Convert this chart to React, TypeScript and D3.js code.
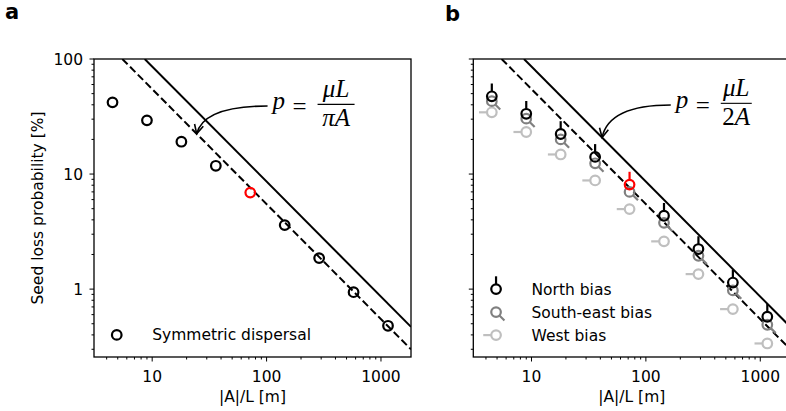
import React from 'react';
import * as d3 from 'd3';

// ---- data ----
const distances = [4.5, 9, 18, 36, 72, 144, 288, 576, 1152];
const symmetricLoss = [42, 29.3, 19.1, 11.8, 6.9, 3.6, 1.86, 0.94, 0.48];
const northLoss = [47.4, 33.4, 22.3, 14.1, 8.1, 4.34, 2.23, 1.14, 0.575];
const southEastLoss = [43, 30.3, 20, 12.4, 7.0, 3.77, 1.95, 0.975, 0.49];
const westLoss = [34.4, 23.2, 14.8, 8.8, 4.96, 2.6, 1.35, 0.67, 0.337];
const highlightIndex = 4;
const xTickValues = [10, 100, 1000];
const yTickValues = [1, 10, 100];
const xDomain = [3.1, 1830];
const yDomain = [0.257, 100];
const coefPi = 548; // p = muL/(pi A), dashed
const coefTwo = 860; // p = muL/(2A), solid
const legendA = ['Symmetric dispersal'];
const legendB = ['North bias', 'South-east bias', 'West bias'];

// ---- layout ----
const W = 786;
const H = 411;
const TOP = 59;
const BOTTOM = 357;
const PW = 317;
const LEFT_A = 94;
const LEFT_B = 473.3;
const FONT = 'DejaVu Sans, sans-serif';
const FS = 15.5;
const MATH = 'Liberation Serif, serif';
const SE_COLOR = '#808080';
const W_COLOR = '#bfbfbf';
const R = 4.8;
const SW = 2.2;

function minorTicks(domain: number[]) {
  const out: number[] = [];
  const e0 = Math.floor(Math.log10(domain[0]));
  const e1 = Math.ceil(Math.log10(domain[1]));
  for (let e = e0; e <= e1; e++) {
    for (let k = 2; k <= 9; k++) {
      const v = k * Math.pow(10, e);
      if (v >= domain[0] && v <= domain[1]) out.push(v);
    }
  }
  return out;
}

type Kind = 'plain' | 'north' | 'se' | 'west';

function Marker({ cx, cy, kind, color }: { cx: number; cy: number; kind: Kind; color: string }) {
  let tail: [number, number, number, number] | null = null;
  if (kind === 'north') tail = [cx, cy - R, cx, cy - R - 8];
  if (kind === 'se') tail = [cx + R * 0.707, cy + R * 0.707, cx + R * 0.707 + 5, cy + R * 0.707 + 5];
  if (kind === 'west') tail = [cx - R, cy, cx - R - 8, cy];
  return (
    <g>
      {tail && (
        <line x1={tail[0]} y1={tail[1]} x2={tail[2]} y2={tail[3]} stroke={color} strokeWidth={SW} />
      )}
      <circle cx={cx} cy={cy} r={R} fill="none" stroke={color} strokeWidth={SW} />
    </g>
  );
}

function Arrow({ sx, sy, ex, ey }: { sx: number; sy: number; ex: number; ey: number }) {
  const cx = ex + 0.1 * (sx - ex);
  const cy = sy;
  const dx = ex - cx;
  const dy = ey - cy;
  const len = Math.hypot(dx, dy);
  const ux = dx / len;
  const uy = dy / len;
  const hl = 9;
  const hw = 4.5;
  const bx = ex - ux * hl;
  const by = ey - uy * hl;
  const p1 = [bx - uy * hw, by + ux * hw];
  const p2 = [bx + uy * hw, by - ux * hw];
  return (
    <g fill="none" stroke="#000" strokeWidth={1.6}>
      <path d={`M${sx},${sy} Q${cx},${cy} ${ex},${ey}`} />
      <path d={`M${p1[0]},${p1[1]} L${ex},${ey} L${p2[0]},${p2[1]}`} />
    </g>
  );
}

function MathLabel({ x, y, den, barW }: { x: number; y: number; den: string; barW: number }) {
  const fs = 25;
  const fracC = x + 50 + barW / 2;
  return (
    <g fontFamily={MATH} fontSize={fs} fill="#000">
      <text x={x + 5} y={y + 3} fontStyle="italic">p</text>
      <text x={x + 32} y={y + 8.5} textAnchor="middle">=</text>
      <text x={fracC} y={y - 9} textAnchor="middle" fontStyle="italic">μL</text>
      <line x1={fracC - barW / 2} x2={fracC + barW / 2} y1={y - 1.7} y2={y - 1.7} stroke="#000" strokeWidth={1.1} />
      <text x={fracC} y={y + 20} textAnchor="middle">
        {den.split('').map((c, i) => (
          <tspan key={i} fontStyle={/[0-9]/.test(c) ? 'normal' : 'italic'}>{c}</tspan>
        ))}
      </text>
    </g>
  );
}

function Panel({ left, id, showYLabels, children }: { left: number; id: string; showYLabels: boolean; children: (x: any, y: any) => React.ReactNode }) {
  const x = d3.scaleLog().domain(xDomain).range([left, left + PW]);
  const y = d3.scaleLog().domain(yDomain).range([BOTTOM, TOP]);
  const xMin = minorTicks(xDomain);
  const yMin = minorTicks(yDomain);
  const lineFor = (c: number) => {
    const xs = [Math.max(xDomain[0], c / yDomain[1]), xDomain[1]];
    return d3.line<number>().x((v) => x(v)).y((v) => y(c / v))(xs) as string;
  };
  return (
    <g>
      <defs>
        <clipPath id={`clip-${id}`}>
          <rect x={left} y={TOP} width={PW} height={BOTTOM - TOP} />
        </clipPath>
      </defs>
      <g clipPath={`url(#clip-${id})`} fill="none" stroke="#000" strokeWidth={2}>
        <path d={lineFor(coefTwo)} />
        <path d={lineFor(coefPi)} strokeDasharray="7.5,3.5" />
      </g>
      {children(x, y)}
      <rect x={left} y={TOP} width={PW} height={BOTTOM - TOP} fill="none" stroke="#000" strokeWidth={1.3} />
      <g stroke="#000" strokeWidth={1}>
        {xTickValues.map((v) => (
          <line key={`xM${v}`} x1={x(v)} x2={x(v)} y1={BOTTOM} y2={BOTTOM + 4.5} />
        ))}
        {xMin.map((v) => (
          <line key={`xm${v}`} x1={x(v)} x2={x(v)} y1={BOTTOM} y2={BOTTOM + 2.5} />
        ))}
        {yTickValues.map((v) => (
          <line key={`yM${v}`} x1={left} x2={left - 4.5} y1={y(v)} y2={y(v)} />
        ))}
        {yMin.map((v) => (
          <line key={`ym${v}`} x1={left} x2={left - 2.5} y1={y(v)} y2={y(v)} />
        ))}
      </g>
      <g fontFamily={FONT} fontSize={FS} fill="#000">
        {xTickValues.map((v) => (
          <text key={`xl${v}`} x={x(v)} y={381.5} textAnchor="middle">{String(v)}</text>
        ))}
        {showYLabels &&
          yTickValues.map((v) => (
            <text key={`yl${v}`} x={left - 11} y={y(v)} dy="0.36em" textAnchor="end">{String(v)}</text>
          ))}
        <text x={left + PW / 2} y={401.5} textAnchor="middle">|A|/L [m]</text>
      </g>
    </g>
  );
}

export default function App() {
  return (
    <svg width={W} height={H} viewBox={`0 0 ${W} ${H}`} style={{ display: 'block', overflow: 'hidden', position: 'absolute', left: 0, top: 0 }}>
      <rect width={W} height={H} fill="#fff" />
      <text x={5} y={19} fontFamily={FONT} fontWeight="bold" fontSize={21}>a</text>
      <text x={445} y={20.5} fontFamily={FONT} fontWeight="bold" fontSize={21}>b</text>
      <text transform={`translate(43,${(TOP + BOTTOM) / 2}) rotate(-90)`} textAnchor="middle" fontFamily={FONT} fontSize={FS}>
        Seed loss probability [%]
      </text>

      <Panel left={LEFT_A} id="a" showYLabels={true}>
        {(x, y) => (
          <g>
            {distances.map((d, i) => (
              <Marker key={i} cx={x(d)} cy={y(symmetricLoss[i])} kind="plain" color={i === highlightIndex ? '#ff0000' : '#000'} />
            ))}
            <Marker cx={x(4.9)} cy={y(0.4)} kind="plain" color="#000" />
            <text x={x(10)} y={y(0.4)} dy="0.36em" fontFamily={FONT} fontSize={FS}>{legendA[0]}</text>
            <Arrow sx={x(102)} sy={y(39)} ex={x(24.5)} ey={y(coefPi / 24.5)} />
            <MathLabel x={x(102)} y={y(39)} den="πA" barW={37} />
          </g>
        )}
      </Panel>

      <Panel left={LEFT_B} id="b" showYLabels={false}>
        {(x, y) => (
          <g>
            {distances.map((d, i) => (
              <Marker key={`w${i}`} cx={x(d)} cy={y(westLoss[i])} kind="west" color={W_COLOR} />
            ))}
            {distances.map((d, i) => (
              <Marker key={`s${i}`} cx={x(d)} cy={y(southEastLoss[i])} kind="se" color={SE_COLOR} />
            ))}
            {distances.map((d, i) => (
              <Marker key={`n${i}`} cx={x(d)} cy={y(northLoss[i])} kind="north" color={i === highlightIndex ? '#ff0000' : '#000'} />
            ))}
            {legendB.map((t, i) => {
              const ly = y(1) + i * 23;
              const kinds: Kind[] = ['north', 'se', 'west'];
              const cols = ['#000', SE_COLOR, W_COLOR];
              return (
                <g key={t}>
                  <Marker cx={x(4.9)} cy={ly} kind={kinds[i]} color={cols[i]} />
                  <text x={x(10)} y={ly} dy="0.36em" fontFamily={FONT} fontSize={FS}>{t}</text>
                </g>
              );
            })}
            <Arrow sx={x(165)} sy={y(39.8)} ex={x(41.4)} ey={y(coefTwo / 41.4)} />
            <MathLabel x={x(165)} y={y(39.8)} den="2A" barW={31} />
          </g>
        )}
      </Panel>
    </svg>
  );
}
